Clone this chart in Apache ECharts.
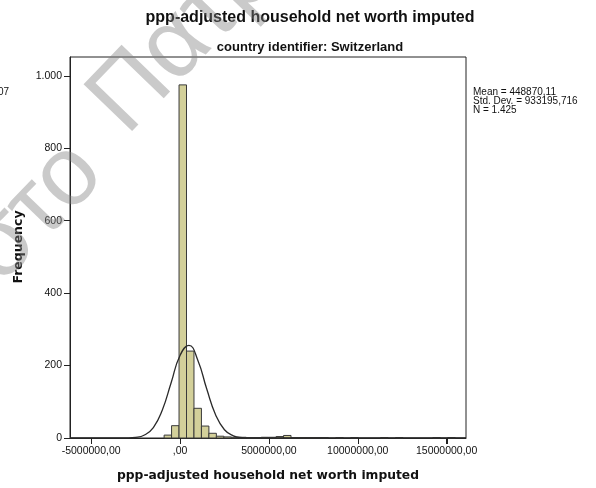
<!DOCTYPE html>
<html>
<head>
<meta charset="utf-8">
<script src="https://cdn.jsdelivr.net/npm/echarts@6/dist/echarts.min.js"></script>
<style>
  html, body { margin: 0; padding: 0; background: #fff; }
  #chart { width: 596px; height: 488px; }
</style>
</head>
<body>
<div id="chart"></div>
<script>
// Histogram bins: lower edge of each non-empty bin and its frequency
const binWidth = 420000;
const binStart = [-895000, -475000, -55000, 365000, 785000, 1205000, 1625000, 2045000,
  2465000, 2885000, 3305000, 3725000, 4145000, 4565000, 4985000, 5405000, 5825000,
  6245000, 6665000, 7085000, 7505000, 7925000, 8765000, 9605000, 11285000, 12125000,
  14225000, 15065000];
const binCount = [8, 34, 975, 240, 82, 33, 13, 5,
  3, 2, 2, 1, 1, 2, 2, 4, 7,
  1, 1, 1, 1, 1, 1, 1, 1, 1,
  1, 1];

// Normal curve overlay (frequency scale)
const curveX = [-6190000, -4000000, -3500000, -3000000, -2500000, -2000000, -1500000, -1000000,
  -500000, 0, 500000, 1000000, 1500000, 2000000, 2500000, 3000000, 3500000, 4000000,
  4500000, 6000000, 16090000];
const curveY = [0, 0, 0.03, 0.3, 1.7, 8.2, 28.9, 76.8,
  152.7, 228.0, 255.6, 215.0, 135.8, 64.3, 22.9, 6.1, 1.2, 0.2,
  0.02, 0, 0];

// Axis ticks
const xTicks = [-5000000, 0, 5000000, 10000000, 15000000];
const yTicks = [0, 200, 400, 600, 800, 1000];

// Summary statistics
const statLines = ['Mean = 448870,11', 'Std. Dev. = 933195,716', 'N = 1.425'];

const barData = binStart.map((s, i) => [s, s + binWidth, binCount[i]]);
const lineData = curveX.map((x, i) => [x, curveY[i]]);
const xTickData = xTicks.map(v => [v, 0]);

const chart = echarts.init(document.getElementById('chart'), null, { renderer: 'canvas' });

const sans = '"Liberation Sans", Arial, sans-serif';
const wide = '"DejaVu Sans", Verdana, sans-serif';
const wmAngle = 46 * Math.PI / 180;
const wmFill = 'rgba(128,128,128,0.42)';

chart.setOption({
  animation: false,
  backgroundColor: '#ffffff',
  grid: {
    left: 70, right: 130, top: 57, bottom: 50,
    show: true, borderColor: '#222', borderWidth: 1, backgroundColor: 'transparent'
  },
  xAxis: {
    type: 'value',
    min: -6190000, max: 16090000,
    splitLine: { show: false },
    axisLine: { show: true, onZero: false, lineStyle: { color: '#222', width: 1 } },
    axisTick: { show: true, inside: false, customValues: xTicks, length: 6, lineStyle: { color: '#222' } },
    axisLabel: {
      customValues: xTicks, margin: 8,
      color: '#111', fontFamily: sans, fontSize: 10.5,
      formatter: v => (v === 0 ? ',00' : v + ',00')
    }
  },
  yAxis: {
    type: 'value',
    min: 0, max: 1052,
    splitLine: { show: false },
    axisLine: { show: true, onZero: false, lineStyle: { color: '#222', width: 1 } },
    axisTick: { show: true, inside: false, customValues: yTicks, length: 6, lineStyle: { color: '#222' } },
    axisLabel: {
      customValues: yTicks, margin: 8,
      color: '#111', fontFamily: sans, fontSize: 10.5,
      formatter: v => (v >= 1000 ? (v / 1000) + '.' + String(v % 1000).padStart(3, '0') : String(v))
    }
  },
  series: [
    {
      type: 'custom',
      data: barData,
      encode: { x: [0, 1], y: 2 },
      renderItem: function (params, api) {
        const p0 = api.coord([api.value(0), 0]);
        const p1 = api.coord([api.value(1), api.value(2)]);
        return {
          type: 'rect',
          shape: { x: p0[0], y: p1[1], width: p1[0] - p0[0], height: p0[1] - p1[1] },
          style: { fill: '#d3d09a', stroke: '#3a3a3a', lineWidth: 1 }
        };
      },
      z: 2
    },
    {
      type: 'line',
      data: lineData,
      smooth: true,
      showSymbol: false,
      lineStyle: { color: '#2a2a2a', width: 1.3 },
      z: 3
    },
    {
      // tick marks below the horizontal axis
      type: 'custom',
      data: xTickData,
      encode: { x: 0, y: 1 },
      clip: false,
      silent: true,
      renderItem: function (params, api) {
        const p = api.coord([api.value(0), 0]);
        const x = Math.round(p[0]) + 0.5;
        return {
          type: 'line',
          shape: { x1: x, y1: p[1], x2: x, y2: p[1] + 6 },
          style: { stroke: '#222', lineWidth: 1 }
        };
      },
      z: 4
    }
  ],
  graphic: [
    {
      type: 'text', x: 310, y: 18, z: 10,
      style: { text: 'ppp-adjusted household net worth imputed', fontFamily: sans, fontWeight: 'bold',
        fontSize: 16, fill: '#111', align: 'center', verticalAlign: 'middle',
        textAlign: 'center', textVerticalAlign: 'middle' }
    },
    {
      type: 'text', x: 310, y: 47, z: 10,
      style: { text: 'country identifier: Switzerland', fontFamily: sans, fontWeight: 'bold',
        fontSize: 13, fill: '#111', align: 'center', verticalAlign: 'middle',
        textAlign: 'center', textVerticalAlign: 'middle' }
    },
    {
      type: 'text', x: 268, y: 476, z: 10,
      style: { text: 'ppp-adjusted household net worth imputed', fontFamily: wide, fontWeight: 'bold',
        fontSize: 12.3, fill: '#111', align: 'center', verticalAlign: 'middle',
        textAlign: 'center', textVerticalAlign: 'middle' }
    },
    {
      type: 'text', x: 19, y: 247, rotation: Math.PI / 2, z: 10,
      style: { text: 'Frequency', fontFamily: wide, fontWeight: 'bold',
        fontSize: 12.5, fill: '#111', align: 'center', verticalAlign: 'middle',
        textAlign: 'center', textVerticalAlign: 'middle' }
    },
    {
      type: 'text', x: 473, y: 88, z: 10,
      style: { text: statLines.join('\n'), fontFamily: sans, fontSize: 10, lineHeight: 9,
        fill: '#111', align: 'left', verticalAlign: 'top', textAlign: 'left', textVerticalAlign: 'top' }
    },
    {
      type: 'text', x: -2, y: 92, z: 10,
      style: { text: '07', fontFamily: sans, fontSize: 10, fill: '#111',
        align: 'left', verticalAlign: 'middle', textAlign: 'left', textVerticalAlign: 'middle' }
    },
    // diagonal watermark
    {
      type: 'text', x: 107, y: 118, rotation: wmAngle, z: 20,
      style: { text: 'Πατρα', fontFamily: sans, fontSize: 98, fill: wmFill,
        align: 'left', verticalAlign: 'middle', textAlign: 'left', textVerticalAlign: 'middle' }
    },
    {
      type: 'text', x: 106, y: 138, rotation: wmAngle, z: 20,
      style: { text: 'στο ', fontFamily: sans, fontSize: 98, fill: wmFill,
        align: 'right', verticalAlign: 'middle', textAlign: 'right', textVerticalAlign: 'middle' }
    }
  ]
});
</script>
</body>
</html>
